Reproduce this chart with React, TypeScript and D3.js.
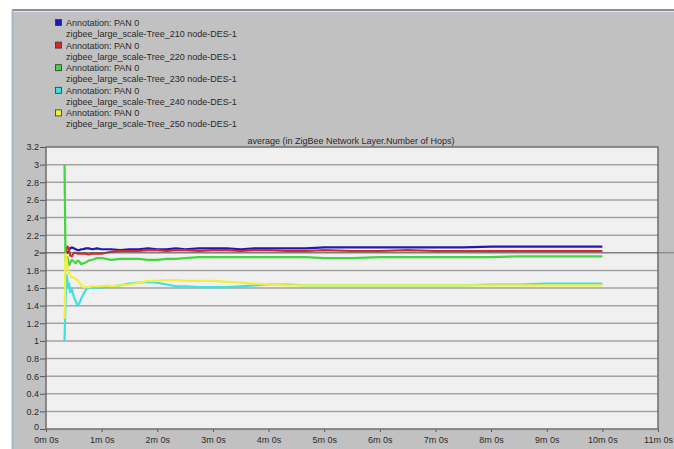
import { useEffect, useRef } from "react";
import * as d3 from "d3";

// sample times in seconds
const times = [
  20, 21, 22, 23, 24, 25, 26, 28, 30, 32, 34, 36, 38, 40, 43, 46, 50, 55, 60, 65, 70, 80, 90, 100,
  110, 120, 130, 140, 150, 165, 180, 195, 210, 225, 240, 260, 280, 300, 330, 360, 390, 420, 450,
  480, 510, 540, 570, 600,
];

const tree210 = [
  2.0, 2.0, 2.0, 2.0, 2.01, 2.03, 2.05, 2.06, 2.05, 2.04, 2.03, 2.03, 2.04, 2.04, 2.05, 2.05, 2.04,
  2.05, 2.04, 2.04, 2.04, 2.03, 2.04, 2.04, 2.05, 2.04, 2.04, 2.05, 2.04, 2.05, 2.05, 2.05, 2.04,
  2.05, 2.05, 2.05, 2.05, 2.06, 2.06, 2.06, 2.06, 2.06, 2.06, 2.07, 2.07, 2.07, 2.07, 2.07,
];
const tree220 = [
  2.0, 2.0, 2.04, 2.07, 2.06, 2.02, 1.97, 1.96, 2.0, 2.0, 1.99, 1.99, 1.99, 1.99, 1.99, 1.98, 1.99,
  1.99, 1.99, 2.0, 2.01, 2.02, 2.02, 2.02, 2.03, 2.03, 2.02, 2.03, 2.03, 2.02, 2.03, 2.03, 2.02,
  2.03, 2.03, 2.02, 2.02, 2.03, 2.02, 2.02, 2.03, 2.02, 2.02, 2.02, 2.02, 2.02, 2.02, 2.02,
];
const tree230 = [
  3.0, 1.92, 1.88, 1.95, 1.9, 1.86, 1.89, 1.92, 1.9, 1.88, 1.91, 1.9, 1.87, 1.88, 1.89, 1.91, 1.92,
  1.94, 1.94, 1.93, 1.92, 1.93, 1.93, 1.93, 1.92, 1.92, 1.93, 1.93, 1.94, 1.95, 1.95, 1.95, 1.95,
  1.95, 1.95, 1.95, 1.95, 1.94, 1.94, 1.95, 1.95, 1.95, 1.95, 1.95, 1.96, 1.96, 1.96, 1.96,
];
const tree240 = [
  1.0, 1.45, 1.75, 1.7, 1.6, 1.65, 1.55, 1.58, 1.5, 1.45, 1.4, 1.43, 1.48, 1.52, 1.58, 1.61, 1.6,
  1.61, 1.6, 1.62, 1.61, 1.63, 1.65, 1.66, 1.67, 1.66, 1.64, 1.62, 1.62, 1.61, 1.61, 1.61, 1.62,
  1.63, 1.64, 1.64, 1.63, 1.63, 1.63, 1.63, 1.63, 1.63, 1.63, 1.64, 1.64, 1.65, 1.65, 1.65,
];
const tree250 = [
  1.25, 2.0, 1.95, 1.85, 1.8, 1.78, 1.74, 1.72, 1.72, 1.7, 1.69, 1.66, 1.63, 1.61, 1.61, 1.61, 1.62,
  1.62, 1.62, 1.63, 1.62, 1.63, 1.64, 1.66, 1.68, 1.68, 1.69, 1.69, 1.68, 1.68, 1.68, 1.67, 1.66,
  1.65, 1.64, 1.63, 1.63, 1.63, 1.63, 1.63, 1.63, 1.63, 1.63, 1.63, 1.63, 1.63, 1.63, 1.63,
];

const seriesNames = [
  "zigbee_large_scale-Tree_210 node-DES-1",
  "zigbee_large_scale-Tree_220 node-DES-1",
  "zigbee_large_scale-Tree_230 node-DES-1",
  "zigbee_large_scale-Tree_240 node-DES-1",
  "zigbee_large_scale-Tree_250 node-DES-1",
];
const seriesValues = [tree210, tree220, tree230, tree240, tree250];
const seriesColors = ["#1a1ab8", "#d42a2a", "#3fd63f", "#3fe0e0", "#f2f03a"];

const yTicks = [0, 0.2, 0.4, 0.6, 0.8, 1, 1.2, 1.4, 1.6, 1.8, 2, 2.2, 2.4, 2.6, 2.8, 3, 3.2];
const xTicks = [0, 1, 2, 3, 4, 5, 6, 7, 8, 9, 10, 11]; // minutes

export default function App() {
  const ref = useRef(null);

  useEffect(() => {
    const W = 674;
    const H = 449;
    const font = "'Liberation Sans', Arial, sans-serif";
    const svg = d3.select(ref.current);
    svg.selectAll("*").remove();

    // page + panel
    svg.append("rect").attr("width", W).attr("height", H).attr("fill", "#ffffff");
    svg.append("rect").attr("x", 12).attr("y", 10).attr("width", W - 12).attr("height", H - 10).attr("fill", "#c2c1c1");
    svg.append("line").attr("x1", 12).attr("x2", W).attr("y1", 10).attr("y2", 10).attr("stroke", "#878fa0").attr("stroke-width", 2);
    svg.append("line").attr("x1", 12).attr("x2", W).attr("y1", 11.5).attr("y2", 11.5).attr("stroke", "#dfe3ea").attr("stroke-width", 1);
    svg.append("line").attr("x1", 12.5).attr("x2", 12.5).attr("y1", 10).attr("y2", H).attr("stroke", "#a9b6cc").attr("stroke-width", 2);

    // legend
    const lg = svg.append("g").attr("transform", "translate(55,19)");
    seriesNames.forEach((name, i) => {
      const g = lg.append("g").attr("transform", `translate(0,${i * 22.6})`);
      g.append("rect").attr("x", 0.5).attr("y", 0.5).attr("width", 6).attr("height", 6)
        .attr("fill", seriesColors[i]).attr("stroke", "#333").attr("stroke-width", 0.8);
      g.append("text").attr("x", 11).attr("y", 7).attr("font-size", 9).attr("font-family", font)
        .attr("fill", "#2a2a2a").text("Annotation: PAN 0");
      g.append("text").attr("x", 11).attr("y", 18).attr("font-size", 9).attr("font-family", font)
        .attr("fill", "#2a2a2a").text(name);
    });

    const left = 46, right = 658, top = 147, bottom = 429;
    const x = d3.scaleLinear().domain([0, 660]).range([left, right]);
    const y = d3.scaleLinear().domain([0, 3.2]).range([bottom, top]);

    // title
    svg.append("text").attr("x", 351).attr("y", 143.5).attr("text-anchor", "middle")
      .attr("font-size", 9).attr("font-family", font).attr("fill", "#2a2a2a")
      .text("average (in ZigBee Network Layer.Number of Hops)");

    // plot area
    svg.append("rect").attr("x", left).attr("y", top).attr("width", right - left).attr("height", bottom - top)
      .attr("fill", "#f0f0f0");

    // grid
    svg.append("g").selectAll("line").data(yTicks.slice(1, -1)).enter().append("line")
      .attr("x1", left).attr("x2", right)
      .attr("y1", (d) => y(d)).attr("y2", (d) => y(d))
      .attr("stroke", "#a3a3a3").attr("stroke-width", 1.5);

    // y axis
    const ya = svg.append("g").attr("transform", `translate(${left},0)`)
      .call(d3.axisLeft(y).tickValues(yTicks).tickSize(6).tickFormat((d) => String(d)));
    ya.select(".domain").remove();
    ya.selectAll("line").attr("stroke", "#555");
    ya.selectAll("text").attr("font-size", 9).attr("font-family", font).attr("fill", "#2a2a2a").attr("dx", 2);
    // the "0" label sits a little above its tick, clear of "0m 0s"
    ya.selectAll("text").filter((d) => d === 0).attr("dy", "0.1em");

    // x axis
    const xa = svg.append("g").attr("transform", `translate(0,${bottom})`)
      .call(d3.axisBottom(x).tickValues(xTicks.map((m) => m * 60)).tickSize(3).tickPadding(5)
        .tickFormat((d) => `${Math.round(d / 60)}m 0s`));
    xa.select(".domain").remove();
    xa.selectAll("line").attr("stroke", "#555");
    xa.selectAll("text").attr("font-size", 9).attr("font-family", font).attr("fill", "#2a2a2a");

    // frame
    svg.append("rect").attr("x", left).attr("y", top).attr("width", right - left).attr("height", bottom - top)
      .attr("fill", "none").attr("stroke", "#6e6e6e").attr("stroke-width", 1.5);

    // lines
    const line = d3.line().x((d) => x(d[0])).y((d) => y(d[1]));
    seriesValues.forEach((vals, i) => {
      svg.append("path")
        .datum(times.map((t, k) => [t, vals[k]]))
        .attr("d", line)
        .attr("fill", "none")
        .attr("stroke", seriesColors[i])
        .attr("stroke-width", 2.2)
        .attr("stroke-linejoin", "round");
    });

    // marker line at 2
    svg.append("line").attr("x1", 38).attr("x2", W).attr("y1", y(2)).attr("y2", y(2))
      .attr("stroke", "#555").attr("stroke-width", 0.8).attr("opacity", 0.8);
  }, []);

  return (
    <svg
      ref={ref}
      width={674}
      height={449}
      style={{ position: "absolute", left: 0, top: 0, display: "block" }}
    />
  );
}
